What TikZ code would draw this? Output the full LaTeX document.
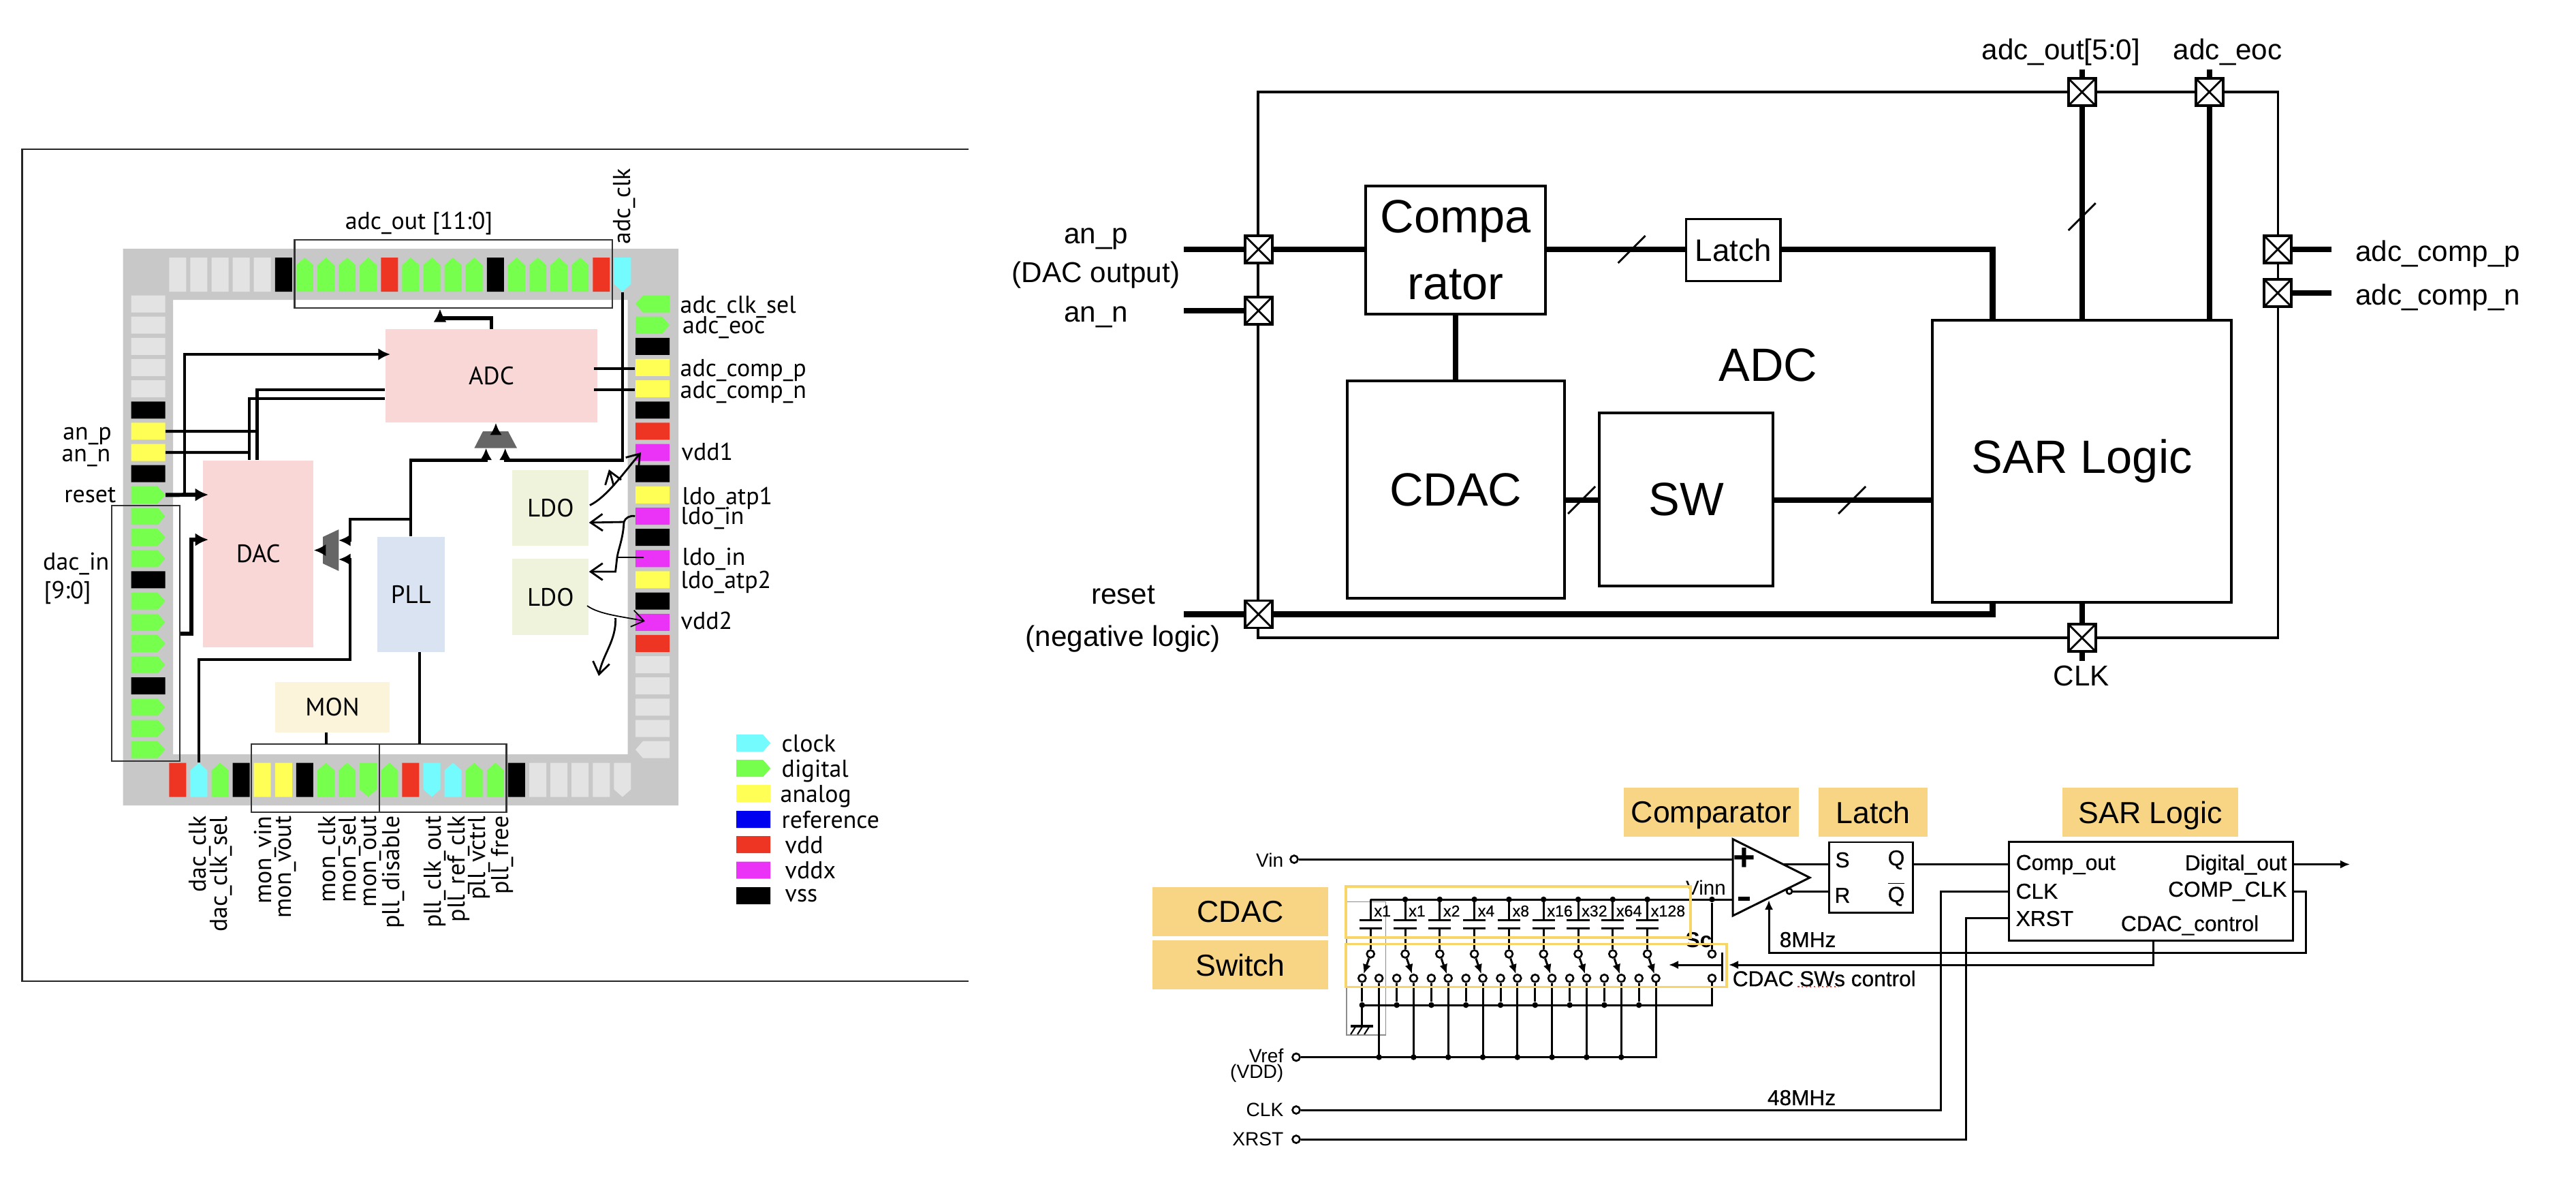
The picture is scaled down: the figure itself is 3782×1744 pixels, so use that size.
\documentclass[tikz,border=0pt]{standalone}
\usepackage{fontspec}
\setmainfont{Liberation Sans}
\newfontfamily\padfont{PT Sans}
\newfontfamily\schemfont[FakeBold=0.5]{Liberation Sans}
\usetikzlibrary{arrows.meta,calc}
\definecolor{gpad}{HTML}{76FF4C}
\definecolor{rpad}{HTML}{EE3524}
\definecolor{cpad}{HTML}{74FBFD}
\definecolor{ypad}{HTML}{FFFF55}
\definecolor{mpad}{HTML}{EA33F7}
\definecolor{kpad}{HTML}{000000}
\definecolor{bpad}{HTML}{0000F0}
\definecolor{lpad}{HTML}{E3E3E3}
\definecolor{ringgray}{HTML}{C8C8C8}
\definecolor{muxgray}{HTML}{666666}
\definecolor{pinkblk}{HTML}{F8D7D6}
\definecolor{blueblk}{HTML}{D9E3F2}
\definecolor{limeblk}{HTML}{EFF3DC}
\definecolor{creamblk}{HTML}{FBF4DB}
\definecolor{tagfill}{HTML}{F8D585}
\definecolor{tagline}{HTML}{F8D568}
\tikzset{
    padshape/.pic={\fill[pic actions] (-25,-12.5) -- (25-#1,-12.5) -- (25,0) -- (25-#1,12.5) -- (-25,12.5) -- cycle;},
    rowport/.style={inner sep=0, minimum width=.255cm, minimum height=.5cm},
    colport/.style={inner sep=0, minimum width=.5cm, minimum height=.25cm},
    block/.style={inner sep=0, font=\padfont\fontsize{10.5}{14}\selectfont},
    padgroup/.style={draw=black!80, line width=.7pt, inner sep=0},
    padtext/.style={inner sep=0, text depth=0pt, font=\padfont\fontsize{10.2}{12}\selectfont},
    wire/.style={line width=1.2pt},
    feed/.style={wire, -{Latex[length=5pt, width=5pt]}},
    thickfeed/.style={line width=1.7pt, -{Latex[length=5.5pt, width=5.5pt]}},
    hand/.style={line width=.8pt, -{Straight Barb[length=5pt, width=7pt]}},
    unit/.style={draw, line width=1.1pt, inner sep=0, font=\fontsize{19.5}{28}\selectfont, align=center},
    bus/.style={line width=2.3pt},
    iocell/.style={draw, fill=white, line width=1.1pt, minimum size=.4cm, inner sep=0,
        path picture={\draw[line width=.8pt] (path picture bounding box.south west) -- (path picture bounding box.north east)
            (path picture bounding box.north west) -- (path picture bounding box.south east);}},
    iotext/.style={inner sep=0, text depth=0pt, font=\fontsize{12}{14}\selectfont},
    tag/.style={fill=tagfill, inner sep=0, text depth=0pt, font=\fontsize{12.7}{15}\selectfont},
    tagframe/.style={draw=tagline, line width=1.1pt, inner sep=0},
    schem/.style={line width=.85pt},
    ctrl/.style={schem, -{Latex[length=4pt, width=3.5pt]}},
    contact/.style={draw, line width=.75pt, fill=white, circle, minimum size=.11cm, inner sep=0},
    joint/.style={fill, circle, minimum size=.085cm, inner sep=0},
    lbl/.style={inner sep=0, font=\schemfont\fontsize{9}{11}\selectfont},
    pinlbl/.style={inner sep=0, anchor=east, font=\fontsize{8}{10}\selectfont},
    caplbl/.style={inner sep=0, anchor=west, font=\schemfont\fontsize{6.6}{8}\selectfont}
}

\begin{document}
\begin{tikzpicture}[x=.01cm, y=-.01cm]
    \useasboundingbox (0,0) rectangle (3782,1744);
    \draw[line width=.7pt, black!85] (1422,219) -- (32.5,219) -- (32.5,1440) -- (1422,1440);
    \fill[ringgray, even odd rule] (180.5,365) rectangle (996,1182) (254,440) rectangle (921.5,1107);

    \foreach \c/\d/\a [count=\i from 0] in {lpad/0/90,lpad/0/90,lpad/0/90,lpad/0/90,lpad/0/90,kpad/0/90,
        gpad/11/90,gpad/11/90,gpad/11/90,gpad/11/90,rpad/0/90,gpad/11/90,gpad/11/90,gpad/11/90,gpad/11/90,kpad/0/90,
        gpad/11/90,gpad/11/90,gpad/11/90,gpad/11/90,rpad/0/90,cpad/11/-90}{
        \pic[fill=\c, rotate=\a] at (260.8+31.1*\i,403) {padshape=\d};
        \node[rowport] (T\i) at (260.8+31.1*\i,403) {};
    }
    \foreach \c/\d/\a [count=\i from 0] in {rpad/0/90,cpad/11/90,gpad/11/90,kpad/0/90,ypad/0/90,ypad/0/90,kpad/0/90,
        gpad/11/90,gpad/11/90,gpad/11/-90,gpad/11/90,rpad/0/90,cpad/11/-90,cpad/11/90,gpad/11/90,gpad/11/90,kpad/0/90,
        lpad/0/90,lpad/0/90,lpad/0/90,lpad/0/90,lpad/11/-90}{
        \pic[fill=\c, rotate=\a] at (260.8+31.1*\i,1144.5) {padshape=\d};
        \node[rowport] (B\i) at (260.8+31.1*\i,1144.5) {};
    }
    \foreach \c/\d/\a [count=\i from 0] in {lpad/0/0,lpad/0/0,lpad/0/0,lpad/0/0,lpad/0/0,kpad/0/0,ypad/0/0,ypad/0/0,kpad/0/0,
        gpad/11/0,gpad/11/0,gpad/11/0,gpad/11/0,kpad/0/0,gpad/11/0,gpad/11/0,gpad/11/0,gpad/11/0,kpad/0/0,
        gpad/11/0,gpad/11/0,gpad/11/0}{
        \pic[fill=\c, rotate=\a] at (217.5,446+31.15*\i) {padshape=\d};
        \node[colport] (L\i) at (217.5,446+31.15*\i) {};
    }
    \foreach \c/\d/\a [count=\i from 0] in {gpad/11/180,gpad/11/0,kpad/0/0,ypad/0/0,ypad/0/0,kpad/0/0,rpad/0/0,mpad/0/0,kpad/0/0,
        ypad/0/0,mpad/0/0,kpad/0/0,mpad/0/0,ypad/0/0,kpad/0/0,mpad/0/0,rpad/0/0,lpad/0/0,lpad/0/0,lpad/0/0,lpad/0/0,lpad/11/180}{
        \pic[fill=\c, rotate=\a] at (958,446+31.15*\i) {padshape=\d};
        \node[colport] (R\i) at (958,446+31.15*\i) {};
    }

    \node[padgroup, minimum width=4.666cm, minimum height=1cm] (outgroup) at (665.7,402) {};
    \node[padgroup, minimum width=1cm, minimum height=3.75cm] (dacgroup) at (214,929.5) {};
    \node[padgroup, minimum width=1.88cm, minimum height=1cm] (mongroup) at (463,1142) {};
    \node[padgroup, minimum width=1.866cm, minimum height=1cm] (pllgroup) at (650.3,1142) {};

    \node[block, fill=pinkblk, minimum width=3.11cm, minimum height=1.365cm] (adc) at (721.5,551.75) {ADC};
    \node[block, fill=pinkblk, minimum width=1.615cm, minimum height=2.74cm] (dac) at (379.25,813) {DAC};
    \node[block, fill=blueblk, minimum width=.994cm, minimum height=1.69cm] (pll) at (603.3,872.5) {PLL};
    \node[block, fill=limeblk, minimum width=1.115cm, minimum height=1.11cm] (ldoa) at (808.25,745.5) {LDO};
    \node[block, fill=limeblk, minimum width=1.115cm, minimum height=1.115cm] (ldob) at (808.25,876.25) {LDO};
    \node[block, fill=creamblk, minimum width=1.68cm, minimum height=.74cm] (mon) at (488,1038) {MON};
    \fill[muxgray] (696.4,657.6) -- (709,633) -- (746,633) -- (759,657.6) -- cycle;
    \fill[muxgray] (497.4,777) -- (474,788) -- (474,827) -- (497.4,838) -- cycle;

    \coordinate (adcsel0) at (713.6,657.6);
    \coordinate (adcsel1) at (741.7,657.6);
    \coordinate (adcmuxout) at (728,633);
    \coordinate (dacsel0) at (497,793);
    \coordinate (dacsel1) at (497,821);
    \coordinate (dacmuxout) at (474,807.5);

    \draw[thickfeed] (adc.north) |- (646,466.5) -- (outgroup.south -| 646,0);
    \draw[thickfeed] (L9.east) -- (306,726);
    \draw[feed] (271,726) |- (573,520);
    \draw[wire] (L6.east) -- (377.5,633);
    \draw[wire] (L7.east) -- (366,664);
    \draw[wire] (377.5,0 |- dac.north) -- (377.5,572) -- (377.5,572 -| adc.west);
    \draw[wire] (366,0 |- dac.north) -- (366,585) -- (366,585 -| adc.west);
    \draw[thickfeed] (dacgroup.east |- 0,929.5) -| (280.6,792) -- (306,792);
    \draw[feed] (B1.north) |- (514,968) |- (dacsel1);
    \draw[feed] (pll.north) |- (713.6,675.4) -- (adcsel0);
    \draw[feed] (604.6,761.6) -| (514,793) -- (dacsel0);
    \draw[feed] (T21.south) |- (741.7,675.4) -- (adcsel1);
    \draw[feed] (adcmuxout) -- (adc.south -| adcmuxout);
    \draw[feed] (dacmuxout) -- (dacmuxout -| dac.east);
    \draw[wire] (872.4,541) -- (R3.west |- 0,541);
    \draw[wire] (872.4,572) -- (R4.west |- 0,572);
    \draw[wire] (616,957) -- (616,1092);
    \draw[wire] (479,1075) -- (479,1092);

    \coordinate (vddone) at (941,664);
    \coordinate (vddtwo) at (947,911.6);
    \draw[hand] (866,741.5) .. controls (890,730) and (915,695) .. (vddone);
    \draw[hand] (901,713) .. controls (899,705) and (897,698) .. (894,689);
    \draw[hand] (R10.west) .. controls (925,756) and (918,760) .. (916,766) -- (ldoa.east |- 0,767);
    \draw[hand] (916,766) .. controls (915,790) and (908,805) .. (906,818) -- (903.6,839) -- (ldob.east |- 0,839);
    \draw[line width=.8pt] (906,818) -- (945,818);
    \draw[-{Straight Barb[length=5pt, width=7pt]}, line width=.5pt] (862,889) .. controls (880,902) and (915,905) .. (vddtwo);
    \draw[hand] (903.6,907) .. controls (905,940) and (885,960) .. (879,992);

    \foreach \t/\x/\y [count=\i] in {an\_p/164.5/636,an\_n/163/668,reset/171/726}{
        \node[padtext, anchor=east] (leftlab\i) at (\x,\y) {\t};
    }
    \node[padtext, anchor=west] (dacinlab) at (62.5,824) {dac\_in};
    \node[padtext, anchor=west] (dacbitlab) at (64,866) {[9:0]};
    \node[padtext] (outlab) at (615,324) {adc\_out [11:0]};
    \node[padtext, rotate=90] (adcclklab) at (913,302.7) {adc\_clk};
    \foreach \t/\x/\y [count=\i] in {adc\_clk\_sel/998/447,adc\_eoc/1001.5/477,adc\_comp\_p/998/540,adc\_comp\_n/998/572,
        vdd1/1000/663,ldo\_atp1/1001/728,ldo\_in/999/757,ldo\_in/1001/817,ldo\_atp2/999/851,vdd2/999/911}{
        \node[padtext, anchor=west] (rightlab\i) at (\x,\y) {\t};
    }
    \foreach \t/\x [count=\i] in {dac\_clk/290,dac\_clk\_sel/321,mon\_vin/386,mon\_vout/416,mon\_clk/479.6,mon\_sel/510,
        mon\_out/541,pll\_disable/574,pll\_clk\_out/634.6,pll\_ref\_clk/669.6,pll\_vctrl/700,pll\_free/733.4}{
        \node[padtext, rotate=90, anchor=east] (botlab\i) at (\x,1197) {\t};
    }

    \foreach \c/\d/\y/\t/\x [count=\i] in {cpad/11/1090.6/clock/1147,gpad/11/1127.7/digital/1147,ypad/0/1164.7/analog/1145,
        bpad/0/1202.7/reference/1147,rpad/0/1239.7/vdd/1152,mpad/0/1277/vddx/1152,kpad/0/1314.7/vss/1152}{
        \pic[fill=\c] at (1106.2,\y) {padshape=\d};
        \node[padtext, anchor=west] (keylab\i) at (\x,\y) {\t};
    }

    \node[unit, line width=1.1pt, minimum width=14.964cm, minimum height=8.01cm] (chip) at (2595.8,535.5) {ADC};
    \node[unit, minimum width=2.634cm, minimum height=1.88cm] (cmp) at (2137,367) {Compa\\rator};
    \node[unit, minimum width=1.38cm, minimum height=.91cm, font=\fontsize{13}{16}\selectfont] (latch) at (2544.5,367) {Latch};
    \node[unit, minimum width=3.186cm, minimum height=3.19cm] (cdac) at (2137.3,718.5) {CDAC};
    \node[unit, minimum width=2.55cm, minimum height=2.54cm] (sw) at (2475.5,733) {SW};
    \node[unit, minimum width=4.386cm, minimum height=4.14cm] (sar) at (3056.7,677) {SAR Logic};

    \coordinate (anpin) at (1738,366);
    \coordinate (anpinn) at (1738,456);
    \coordinate (rstpin) at (1738,901.5);
    \coordinate (outpin) at (3056.7,102);
    \coordinate (eocpin) at (3243.6,102);
    \coordinate (comppin) at (3423,366);
    \coordinate (compnpin) at (3423,430);
    \coordinate (clkpin) at (3056.7,970);
    \draw[bus] (anpin) -- (cmp.west |- anpin);
    \draw[bus] (anpinn) -- (1847.6,456);
    \draw[bus] (rstpin) -| (sar.south -| 2925.5,0);
    \draw[bus] (cmp.east |- 0,366) -- (latch.west |- 0,366);
    \draw[bus] (latch.east |- 0,366) -| (2925.5,0 |- sar.north);
    \draw[bus] (cmp.south) -- (cdac.north -| cmp.south);
    \draw[bus] (cdac.east |- 0,734) -- (sw.west |- 0,734);
    \draw[bus] (sw.east |- 0,734) -- (sar.west |- 0,734);
    \draw[bus] (sar.north) -- (outpin);
    \draw[bus] (3243.6,0 |- sar.north) -- (eocpin);
    \draw[bus] (sar.south) -- (clkpin);
    \draw[bus] (3344,366) -- (comppin);
    \draw[bus] (3344,430) -- (compnpin);
    \foreach \x/\y in {2395.6/366,2322/734,2719/734,3056.7/318}{
        \draw[line width=.8pt] (\x-20,\y+20) -- (\x+20,\y-20);
    }
    \foreach \n/\x/\y in {canp/1847.6/366,cann/1847.6/456,crst/1847.6/901.5,cout/3056.7/135,ceoc/3243.6/135,
        ccmpp/3344/366,ccmpn/3344/430,cclk/3056.7/936}{
        \node[iocell] (\n) at (\x,\y) {};
    }
    \node[iotext] (anptext) at (1609,346) {an\_p};
    \node[iotext] (dacouttext) at (1609,399) {(DAC output)};
    \node[iotext] (anntext) at (1609,461) {an\_n};
    \node[iotext] (rsttext) at (1649,873) {reset};
    \node[iotext] (negtext) at (1649,933) {(negative logic)};
    \node[iotext] (outtext) at (3025.8,72) {adc\_out[5:0]};
    \node[iotext] (eoctext) at (3270.7,72) {adc\_eoc};
    \node[iotext, anchor=west] (comptext) at (3457.6,368) {adc\_comp\_p};
    \node[iotext, anchor=west] (compntext) at (3457.6,432) {adc\_comp\_n};
    \node[iotext] (clktext) at (3056,992) {CLK};

    \node[tag, minimum width=2.58cm, minimum height=.715cm] (tagcdac) at (1821,1338) {CDAC};
    \node[tag, minimum width=2.58cm, minimum height=.72cm] (tagsw) at (1821,1416) {Switch};
    \node[tag, minimum width=2.565cm, minimum height=.72cm] (tagcmp) at (2512.7,1192) {Comparator};
    \node[tag, minimum width=1.6cm, minimum height=.72cm] (taglatch) at (2750,1192) {Latch};
    \node[tag, minimum width=2.58cm, minimum height=.72cm] (tagsar) at (3157,1192) {SAR Logic};

    \node[draw=black!45, line width=.4pt, minimum width=.576cm, minimum height=1.954cm, inner sep=0] (capgroup) at (2005.8,1421.3) {};
    \draw[schem] (2544,1231.5) -- (2657,1288) -- (2544,1344) -- cycle;
    \node[inner sep=0, font=\fontsize{16}{16}\selectfont\bfseries] (opplus) at (2560.7,1261) {+};
    \draw[line width=1.5pt] (2552,1319) -- (2569,1319);
    \node[contact, minimum size=.08cm] (opbubble) at (2627,1308) {};
    \coordinate (opin) at (2544,1261);
    \coordinate (opinn) at (2544,1320);
    \coordinate (opclk) at (2597,1321);
    \coordinate (opq) at (2618,1268.5);

    \node[draw, schem, minimum width=1.237cm, minimum height=1.034cm, inner sep=0] (srff) at (2747,1287.7) {};
    \node[lbl] (srs) at (2705,1262) {S};
    \node[lbl] (srr) at (2705,1314) {R};
    \node[lbl] (srq) at (2784,1262) {Q};
    \node[lbl] (srnq) at (2784,1312) {\(\overline{\hbox{Q}}\)};
    \node[draw, schem, minimum width=4.16cm, minimum height=1.44cm, inner sep=0] (logic) at (3158,1308) {};
    \node[lbl, anchor=west] (lgcmp) at (2959,1269) {Comp\_out};
    \node[lbl, anchor=west] (lgclk) at (2959,1308) {CLK};
    \node[lbl, anchor=west] (lgrst) at (2959,1348) {XRST};
    \node[lbl, anchor=east] (lgdig) at (3358,1269) {Digital\_out};
    \node[lbl, anchor=east] (lgcclk) at (3358,1308) {COMP\_CLK};
    \node[lbl] (lgctl) at (3215,1358) {CDAC\_control};

    \node[contact] (vinpin) at (1900,1261) {};
    \node[contact] (vrefpin) at (1903,1551.5) {};
    \node[contact] (clkterm) at (1903,1629) {};
    \node[contact] (rstterm) at (1903,1672) {};
    \node[pinlbl] (vinlab) at (1885,1262) {Vin};
    \node[pinlbl] (vreflab) at (1885,1549) {Vref};
    \node[pinlbl] (vddlab) at (1885,1575) {(VDD)};
    \node[pinlbl] (clklab) at (1885,1629) {CLK};
    \node[pinlbl] (rstlab) at (1885,1672) {XRST};
    \node[inner sep=0, font=\fontsize{8.4}{10}\selectfont] (vinnlab) at (2504.5,1303) {Vinn};
    \node[inner sep=0, font=\fontsize{9}{11}\selectfont\bfseries] (sclab) at (2494,1380) {Sc};
    \node[lbl] (mhzeight) at (2654,1379) {8MHz};
    \node[lbl] (mhzfortyeight) at (2645,1611) {48MHz};
    \node[lbl, anchor=west] (swctl) at (2543,1436) {CDAC SWs control};
    \draw[red!80!white, line width=.7pt, densely dotted] (2639,1448) -- (2700,1448);

    \draw[schem] (vinpin) -- (opin);
    \draw[schem] (opq) -- (srff.west |- opq);
    \draw[schem] (opbubble) -- (srff.west |- opbubble);
    \draw[schem] (srff.east |- opq) -- (logic.west |- opq);
    \draw[ctrl] (logic.east |- opq) -- (3450,1268.5);
    \draw[ctrl] (logic.east |- 0,1308) -| (3385,1398) -| (opclk);
    \draw[ctrl] (logic.south -| 3161,0) |- (2538,1416);
    \draw[ctrl] (2528,1416) -- (2450,1416);
    \draw[schem] (2528,1398) -- (2528,1440);
    \draw[schem] (clkterm) -| (2849,1308) -- (logic.west |- 0,1308);
    \draw[schem] (rstterm) -| (2886.5,1347) -- (logic.west |- 0,1347);

    \coordinate (topbus) at (2012.2,1320);
    \coordinate (gndbus) at (1999.8,1475);
    \coordinate (refend) at (2431,1551.5);
    \draw[schem] (topbus) -- (opinn);
    \draw[schem] (gndbus) -- (2513.5,1475) -- (2513.5,1436);
    \draw[schem] (vrefpin) -- (refend) -- (2431,1436);
    \node[joint] (scdot) at (2513.5,1320) {};
    \node[contact] (sctop) at (2513.5,1400) {};
    \node[contact] (scbot) at (2513.5,1435.7) {};
    \draw[schem] (scdot) -- (sctop);
    \foreach \t [count=\i from 0] in {x1,x1,x2,x4,x8,x16,x32,x64,x128}{
        \pgfmathsetmacro{\xc}{2012.2+50.8*\i}
        \node[contact] (st\i) at (\xc,1400) {};
        \node[contact] (gn\i) at (\xc-12.4,1435.7) {};
        \node[contact] (rf\i) at (\xc+12.4,1435.7) {};
        \node[joint] (gd\i) at (\xc-12.4,1475) {};
        \draw[schem] (\xc,1320) -- (\xc,1350.5);
        \draw[schem] (\xc,1362.6) -- (st\i);
        \draw[line width=.9pt] (\xc-16.6,1350.5) -- (\xc+16.6,1350.5);
        \draw[line width=.9pt] (\xc-16.6,1362.6) -- (\xc+16.6,1362.6);
        \node[caplbl] (cap\i) at (\xc+4.5,1337) {\t};
        \draw[schem] (gn\i) -- (gd\i);
        \draw[schem] (rf\i) -- (\xc+12.4,1551.5);
        \ifnum\i=0
            \draw[ctrl] (st\i) -- (gn\i);
        \else
            \draw[ctrl] (st\i) -- (rf\i);
            \node[joint] (td\i) at (\xc,1320) {};
        \fi
        \ifnum\i<8
            \node[joint] (rd\i) at (\xc+12.4,1551.5) {};
        \fi
    }
    \draw[schem] (gndbus) -- (1999.8,1506);
    \draw[line width=.9pt] (1983.2,1506) -- (2016.4,1506);
    \foreach \x in {1990,2000,2010}{
        \draw[line width=.6pt] (\x,1507) -- (\x-7,1518);
    }

    \node[tagframe, minimum width=5.06cm, minimum height=.745cm] (cdacframe) at (2229,1338.5) {};
    \node[tagframe, minimum width=5.59cm, minimum height=.63cm] (swframe) at (2255.5,1417) {};
\end{tikzpicture}
\end{document}
